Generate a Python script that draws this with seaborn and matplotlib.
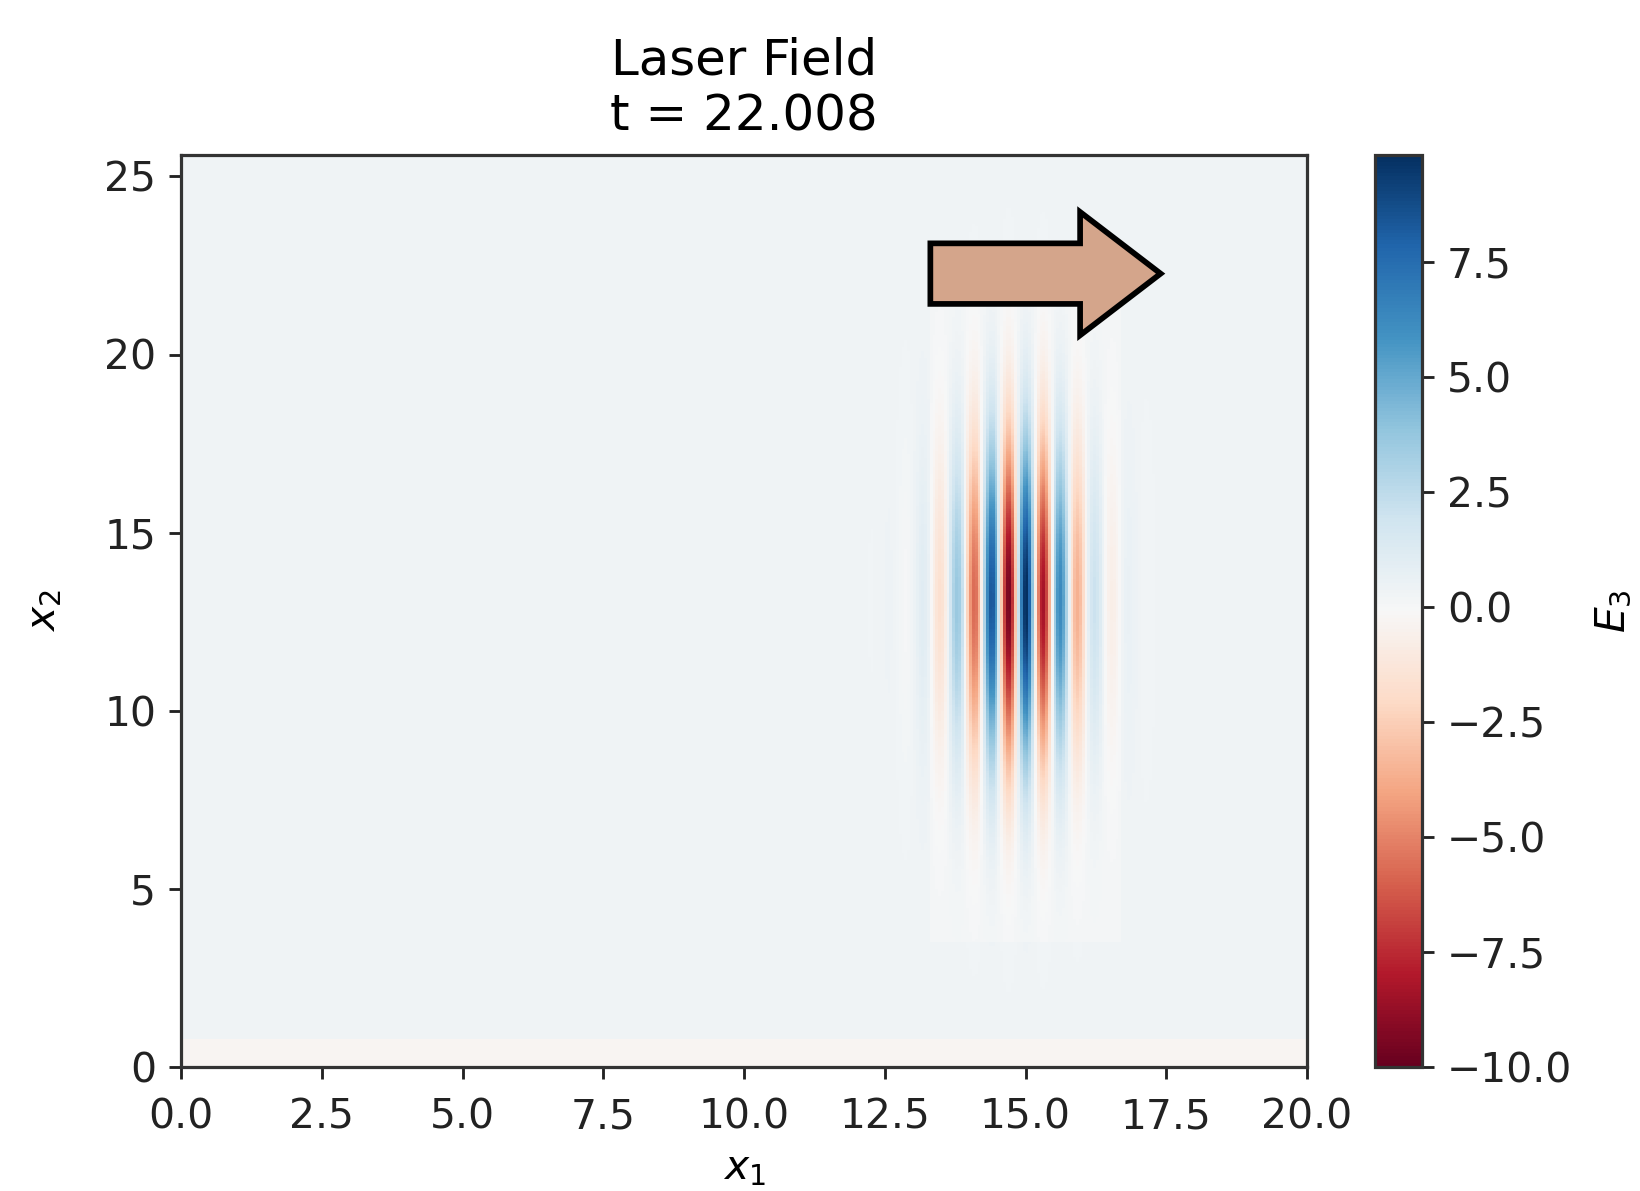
import numpy as np
import pandas as pd
import seaborn as sns
import matplotlib
matplotlib.use("Agg")
import matplotlib.pyplot as plt
import matplotlib.patches as mpatches

# ---- values ----
title_lines = ["Laser Field", "t = 22.008"]
x1_range = [0.0, 20.0]
x2_range = [0.0, 25.6]
x1_ticks = [0.0, 2.5, 5.0, 7.5, 10.0, 12.5, 15.0, 17.5, 20.0]
x2_ticks = [0, 5, 10, 15, 20, 25]
cbar_ticks = [-10.0, -7.5, -5.0, -2.5, 0.0, 2.5, 5.0, 7.5]
e3_limits = [-10.0, 9.83]

# pulse description
pulse_center = [14.87, 13.1]     # x1, x2
pulse_sigma = [0.75, 3.1]        # x1, x2 envelope widths
pulse_wavelength = 0.62
pulse_peak_x1 = 15.01            # position of the strongest positive crest
pulse_amplitude = 10.2
# background levels
bg_level = 0.32
zone_level = 0.12
zone_x1 = [13.3, 16.7]
zone_x2 = [3.5, 21.5]
strip_level = -0.3
strip_top = 0.8

arrow_tail = [13.31, 22.27]
arrow_len = 4.09

# ---- build grid ----
dx = 0.05
nx = int(round((x1_range[1] - x1_range[0]) / dx))
ny = int(round((x2_range[1] - x2_range[0]) / dx))
x1 = x1_range[0] + (np.arange(nx) + 0.5) * dx
x2 = x2_range[0] + (np.arange(ny) + 0.5) * dx
X1, X2 = np.meshgrid(x1, x2)

field = np.full(X1.shape, bg_level)
zone = (X1 >= zone_x1[0]) & (X1 <= zone_x1[1]) & (X2 >= zone_x2[0]) & (X2 <= zone_x2[1])
field[zone] = zone_level
field[X2 < strip_top] = strip_level
env = np.exp(-((X1 - pulse_center[0]) ** 2) / (2 * pulse_sigma[0] ** 2)
             - ((X2 - pulse_center[1]) ** 2) / (2 * pulse_sigma[1] ** 2))
carrier = np.cos(2 * np.pi * (X1 - pulse_peak_x1) / pulse_wavelength)
field = field + pulse_amplitude * env * carrier

df = pd.DataFrame(field, index=x2, columns=x1)

# ---- figure ----
W, H = 1640, 1191
dpi = 256.25
fig = plt.figure(figsize=(W / dpi, H / dpi), dpi=dpi)
ax = fig.add_axes([181 / W, 1 - 1067 / H, (1307 - 181) / W, (1067 - 155) / H])
cax = fig.add_axes([1375 / W, 1 - 1067 / H, 47 / W, (1067 - 155) / H])

sns.heatmap(df, ax=ax, cbar_ax=cax, cmap="RdBu", vmin=e3_limits[0], vmax=e3_limits[1],
            xticklabels=False, yticklabels=False, rasterized=True,
            cbar_kws={"ticks": cbar_ticks})
ax.invert_yaxis()
ax.set_ylim(0, ny)
ax.set_xlim(0, nx)

ax.set_xticks([(v - x1_range[0]) / dx for v in x1_ticks])
ax.set_xticklabels([f"{v:.1f}" for v in x1_ticks], rotation=0)
ax.set_yticks([(v - x2_range[0]) / dx for v in x2_ticks])
ax.set_yticklabels([f"{v:d}" for v in x2_ticks], rotation=0)
ax.tick_params(axis="both", labelsize=11.5, length=3.5, width=0.8, colors="#222222",
               direction="out", bottom=True, left=True)
ax.tick_params(axis="x", pad=5)
for s in ax.spines.values():
    s.set_visible(True)
    s.set_color("#333333")
    s.set_linewidth(0.9)

ax.set_xlabel("$x_1$", fontsize=11.5, labelpad=3)
ax.set_ylabel("$x_2$", fontsize=11.5, labelpad=11)
ax.set_title("\n".join(title_lines), fontsize=14, pad=7)

cb = ax.collections[0].colorbar
cb.outline.set_linewidth(0.9)
cb.outline.set_edgecolor("#333333")
cax.tick_params(labelsize=11.5, length=3.5, width=0.8, colors="#222222")
cb.set_label("$E_3$", fontsize=11.5, labelpad=6)

# arrow annotation (in data units converted to cell units)
arr = mpatches.FancyArrow(arrow_tail[0] / dx, arrow_tail[1] / dx, arrow_len / dx, 0,
                          width=1.7 / dx, head_width=3.46 / dx, head_length=1.43 / dx,
                          length_includes_head=True, facecolor="#d4a58b",
                          edgecolor="black", linewidth=1.6, zorder=5)
ax.add_patch(arr)

fig.savefig("out.png", dpi=dpi)
